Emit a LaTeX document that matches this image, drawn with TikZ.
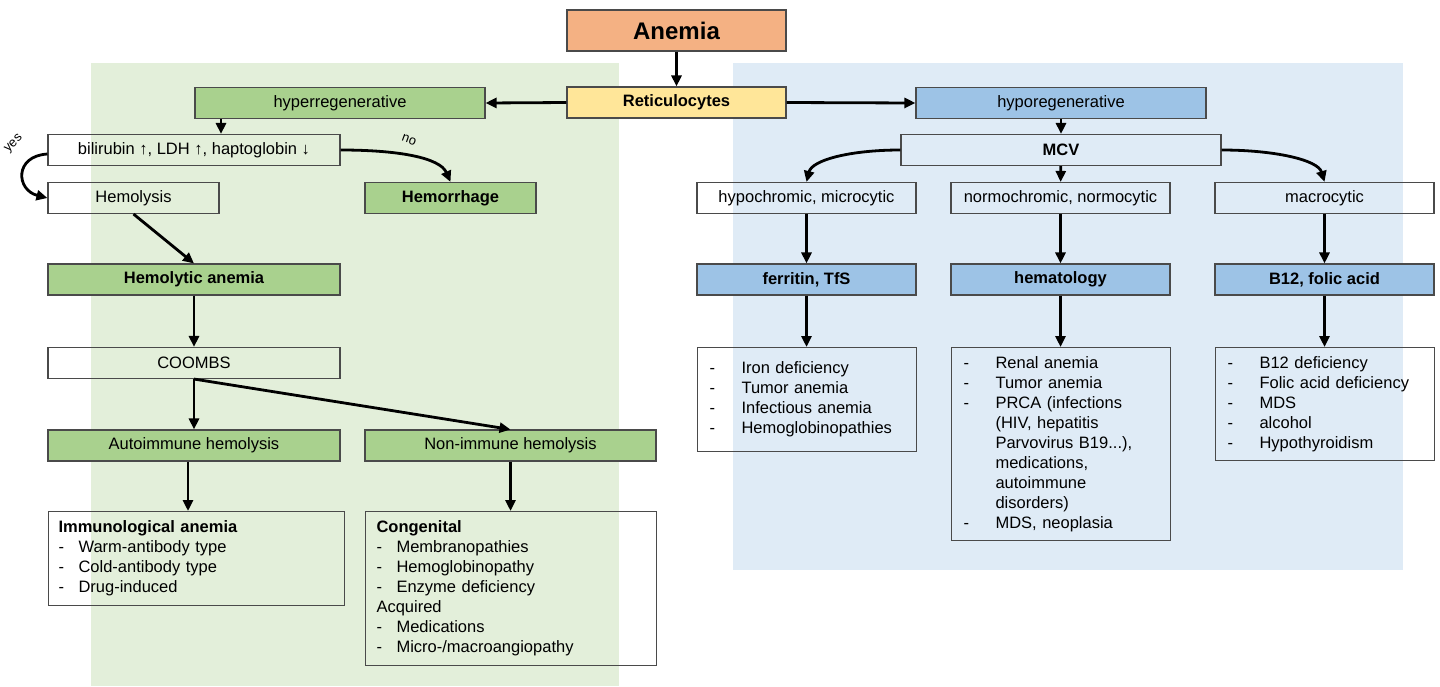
\documentclass[tikz,border=0pt]{standalone}
\usepackage{fontspec}
\setmainfont{Liberation Sans}
\usepackage{tikz}
\usetikzlibrary{arrows.meta,positioning,calc}
\definecolor{bord}{HTML}{4A4A4A}
\definecolor{saumon}{HTML}{F4B183}
\definecolor{jaune}{HTML}{FFE699}
\definecolor{vert}{HTML}{A9D18E}
\definecolor{vertfond}{HTML}{E3EFDA}
\definecolor{bleu}{HTML}{9DC3E6}
\definecolor{bleufond}{HTML}{DFEBF6}
\newcommand{\tir}[1]{\makebox[32pt][l]{-}#1}
\newcommand{\tirc}[1]{\makebox[20pt][l]{-}#1}
\newcommand{\suite}[1]{\makebox[32pt]{}#1}
\tikzset{
  boite/.style={rectangle, draw=bord, line width=1.1pt, fill=#1, align=center,
                font=\fontsize{16.5}{20}\selectfont, minimum height=31pt, inner sep=0pt},
  boite/.default=none,
  gras/.style={font=\fontsize{16.5}{20}\selectfont\bfseries},
  liste/.style={rectangle, draw=bord, line width=1.1pt, anchor=north west, align=left,
                font=\fontsize{16.5}{20}\selectfont, inner xsep=#1, inner ysep=0pt},
  arr/.style={-{Triangle[length=11pt, width=10pt]}, line width=2.8pt, draw=black},
  etiq/.style={font=\fontsize{13}{13}\selectfont, inner sep=0pt},
}

\begin{document}
\begin{tikzpicture}[x=1pt, y=-1pt]
    \useasboundingbox (0,0) rectangle (1440,686);
    \fill[vertfond] (91,63) rectangle (619,686);
    \fill[bleufond] (733,63) rectangle (1403,570);

    \node[boite=saumon, minimum width=219pt, minimum height=41pt,
          font=\fontsize{24}{28}\selectfont\bfseries] (anemie) at (676.5,30.5) {Anemia};
    \node[boite=jaune, gras, minimum width=219pt] (reti) at (676.5,102.5) {Reticulocytes};
    \node[boite=vert, minimum width=290pt] (hyper) at (340,103) {hyperregenerative};
    \node[boite=bleu, minimum width=290pt] (hypo) at (1061,103) {hyporegenerative};

    % branche hyperregenerative
    \node[boite, minimum width=292pt] (bili) at (194,150) {bilirubin ↑, LDH ↑, haptoglobin ↓};
    \node[boite, minimum width=171pt] (hemo) at (133.5,198) {Hemolysis};
    \node[boite=vert, gras, minimum width=171pt] (hemorr) at (450.5,198) {Hemorrhage};
    \node[boite=vert, gras, minimum width=292pt] (hemanemie) at (194,279.5) {Hemolytic anemia};
    \node[boite, minimum width=292pt] (coombs) at (194,363) {COOMBS};
    \node[boite=vert, minimum width=292pt] (auto) at (194,445.5) {Autoimmune hemolysis};
    \node[boite=vert, minimum width=291pt] (nonimm) at (510.5,445.5) {Non-immune hemolysis};
    \node[liste=10pt, text width=276pt, minimum height=94pt] (immun) at (48,511)
      {\textbf{Immunological anemia}\\ \tirc{Warm-antibody type}\\
       \tirc{Cold-antibody type}\\ \tirc{Drug-induced}};
    \node[liste=11pt, text width=269pt, minimum height=154pt] (congen) at (365,511)
      {\textbf{Congenital}\\ \tirc{Membranopathies}\\ \tirc{Hemoglobinopathy}\\
       \tirc{Enzyme deficiency}\\ Acquired\\ \tirc{Medications}\\
       \tirc{Micro-/macroangiopathy}};
    \node[etiq, rotate=45] (oui) at (14,144) {yes};
    \node[etiq, rotate=-20] (non) at (409,140) {no};

    % branche hyporegenerative
    \node[boite, gras, minimum width=320pt] (mcv) at (1061,150) {MCV};
    \node[boite, minimum width=219pt] (hypoc) at (806.5,198) {hypochromic, microcytic};
    \node[boite, minimum width=219pt] (normo) at (1060.5,198) {normochromic, normocytic};
    \node[boite, minimum width=219pt] (macro) at (1324.5,198) {macrocytic};
    \node[boite=bleu, gras, minimum width=219pt] (ferr) at (806.5,279.5) {ferritin, TfS};
    \node[boite=bleu, gras, minimum width=219pt] (hemat) at (1060.5,279.5) {hematology};
    \node[boite=bleu, gras, minimum width=219pt] (b12) at (1324.5,279.5) {B12, folic acid};
    \node[liste=12pt, text width=195pt, minimum height=104pt] (ferl) at (697,347)
      {\tir{Iron deficiency}\\ \tir{Tumor anemia}\\ \tir{Infectious anemia}\\
       \tir{Hemoglobinopathies}\\[8pt]};
    \node[liste=12pt, text width=195pt, minimum height=193pt] (hemal) at (951,347)
      {\tir{Renal anemia}\\ \tir{Tumor anemia}\\ \tir{PRCA (infections}\\
       \suite{(HIV, hepatitis}\\ \suite{Parvovirus B19...),}\\ \suite{medications,}\\
       \suite{autoimmune}\\ \suite{disorders)}\\ \tir{MDS, neoplasia}};
    \node[liste=12pt, text width=195pt, minimum height=113pt] (b12l) at (1215,347)
      {\tir{B12 deficiency}\\ \tir{Folic acid deficiency}\\ \tir{MDS}\\
       \tir{alcohol}\\ \tir{Hypothyroidism}};

    \draw[arr] (anemie) -- (reti);
    \draw[arr] (reti.west) -- (hyper.east);
    \draw[arr] (reti.east) -- (hypo.west);
    \draw[arr] ([xshift=27pt]bili.north |- hyper.south) -- ([xshift=27pt]bili.north);
    \draw[arr] ([yshift=-4pt]bili.west) .. controls (14,156) and (16,190) .. (hemo.west);
    \draw[arr] (bili.east) .. controls (400,150) and (440,158) .. (hemorr.north);
    \draw[arr] (hemo.south) -- (hemanemie.north);
    \draw[arr] (hemanemie) -- (coombs);
    \draw[arr] (coombs) -- (auto);
    \draw[arr] (coombs.south) -- (nonimm.north);
    \draw[arr] ([xshift=-6pt]auto.south) -- ([xshift=-6pt]auto.south |- immun.north);
    \draw[arr] (nonimm.south) -- (nonimm.south |- congen.north);

    \draw[arr] (hypo) -- (mcv);
    \draw[arr] (mcv.west) .. controls (850,150) and (812,160) .. (hypoc.north);
    \draw[arr] (mcv.east) .. controls (1275,150) and (1318,160) .. (macro.north);
    \draw[arr] (mcv) -- (normo);
    \foreach \a/\b/\c in {hypoc/ferr/ferl, normo/hemat/hemal, macro/b12/b12l} {
      \draw[arr] (\a) -- (\b);
      \draw[arr] (\b.south) -- (\b.south |- \c.north);
    }
  \end{tikzpicture}
\end{document}
